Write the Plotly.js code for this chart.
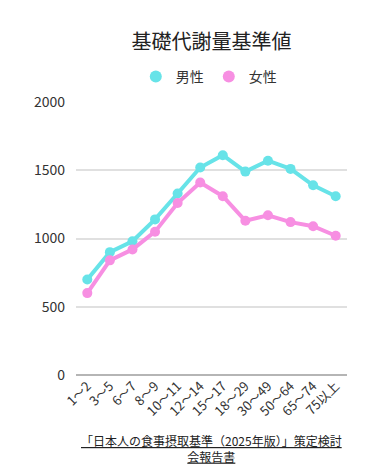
<!DOCTYPE html>
<html><head><meta charset="utf-8">
<script src="https://cdn.plot.ly/plotly-3.0.1.min.js"></script>
<style>html,body{margin:0;padding:0;background:#fff}</style>
</head><body>
<div id="chart" style="width:381px;height:475px"></div>
<script>
const categories = ["1～2","3～5","6～7","8～9","10～11","12～14","15～17","18～29","30～49","50～64","65～74","75以上"];
const maleValues = [700,900,980,1140,1330,1520,1610,1490,1570,1510,1390,1310];
const femaleValues = [600,840,920,1050,1260,1410,1310,1130,1170,1120,1090,1020];
const seriesNames = ["男性","女性"];
const FONT = '"Noto Sans CJK JP", "Noto Sans", sans-serif';

const traces = [
  {x: categories, y: maleValues, name: seriesNames[0], type: 'scatter', mode: 'lines+markers',
   line: {color: '#67e3e8', width: 4}, marker: {color: '#67e3e8', size: 10}},
  {x: categories, y: femaleValues, name: seriesNames[1], type: 'scatter', mode: 'lines+markers',
   line: {color: '#f78fe2', width: 4}, marker: {color: '#f78fe2', size: 10}}
];
const layout = {
  width: 381, height: 475,
  margin: {l: 76, r: 34, t: 102, b: 100},
  paper_bgcolor: '#fff', plot_bgcolor: '#fff',
  font: {family: FONT, color: '#333'},
  title: {text: '基礎代謝量基準値', font: {size: 20, color: '#222', family: FONT},
          x: 0.555, xanchor: 'center', yref: 'container', y: 1 - 42/475, yanchor: 'middle'},
  showlegend: true,
  legend: {orientation: 'h', x: 0.49, xanchor: 'center', y: 1.092, yanchor: 'middle',
           font: {size: 14, color: '#333'}, itemsizing: 'constant', itemwidth: 30,
           traceorder: 'normal'},
  xaxis: {type: 'category', range: [-0.5, 11.5], tickangle: -45, tickfont: {size: 13, color: '#333'},
          showgrid: false, showline: false, zeroline: false, ticks: ''},
  yaxis: {range: [0, 2000], tickvals: [0,500,1000,1500,2000], tickfont: {size: 14, color: '#333'},
          gridcolor: '#e0e0e0', gridwidth: 2, zeroline: true, zerolinecolor: '#b5b5b5', zerolinewidth: 2,
          showline: false, ticks: '', ticklabelstandoff: 10},
  annotations: [{
    text: '<u>「日本人の食事摂取基準（2025年版）」策定検討</u><br><u>会報告書</u>',
    xref: 'paper', yref: 'paper', x: 0.5, y: -0.268, xanchor: 'center', yanchor: 'middle',
    showarrow: false, align: 'center', font: {size: 12, color: '#222', family: FONT}
  }]
};
Plotly.newPlot('chart', traces, layout, {displayModeBar: false, staticPlot: true}).then(() => {
  document.querySelectorAll('.legend .traces').forEach(g => {
    g.querySelectorAll('.js-line').forEach(l => l.style.display = 'none');
    g.querySelectorAll('.scatterpts path').forEach(p => {
      p.setAttribute('d', 'M7,0A7,7 0 1,1 0,-7A7,7 0 0,1 7,0Z');
    });
  });
});
</script>
</body></html>
